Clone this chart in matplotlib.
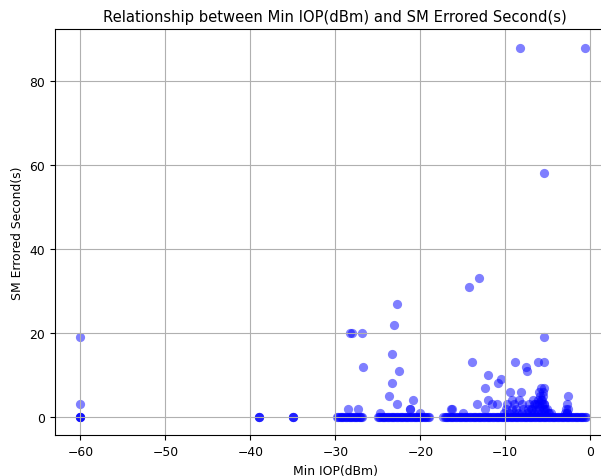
import matplotlib
matplotlib.use('Agg')
import matplotlib.pyplot as plt

# Records with SM Errored Second(s) = 0
zero_iop = [-60.0, -60.0, -60.0, -60.0, -39.0, -39.0, -39.0, -35.0, -35.0, -35.0,
            -29.8, -29.5, -29.2, -28.9, -28.6, -28.3, -28.0, -27.7, -27.4, -27.1, -26.9,
            -25.0, -24.7, -24.4, -24.1, -23.8, -23.5, -23.2, -22.9, -22.6, -22.3, -22.0,
            -21.7, -21.4, -21.1, -20.8, -20.5, -20.2, -19.9, -19.6, -19.3, -19.0,
            -17.3, -17.0, -16.7, -16.4, -16.1, -15.8, -15.5, -15.2, -14.9, -14.6, -14.3,
            -14.0, -13.7, -13.4, -13.1, -12.8, -12.5, -12.2, -11.9, -11.6, -11.3, -11.0,
            -10.7, -10.4, -10.1, -9.8, -9.5, -9.2, -8.9, -8.6, -8.3, -8.0, -7.7, -7.4,
            -7.1, -6.8, -6.5, -6.2, -5.9, -5.6, -5.3, -5.0, -4.7, -4.4, -4.1, -3.8, -3.5,
            -3.2, -2.9, -2.6, -2.3, -2.0, -1.7, -1.4, -1.1, -0.8, -0.5]
zero_iop_more = [-29.65, -29.35, -29.05, -28.75, -28.45, -28.15, -27.85, -27.55, -27.25, -27.0,
                 -24.85, -24.55, -24.25, -23.95, -23.65, -23.35, -23.05, -22.75, -22.45, -22.15,
                 -21.85, -21.55, -21.25, -20.95, -20.65, -20.35, -20.05, -19.75, -19.45, -19.15,
                 -17.15, -16.85, -16.55, -16.25, -15.95, -15.65, -15.35, -15.05, -14.75, -14.45,
                 -14.15, -13.85, -13.55, -13.25, -12.95, -12.65, -12.35, -12.05, -11.75, -11.45,
                 -11.15, -10.85, -10.55, -10.25, -9.95, -9.65, -9.35, -9.05, -8.75, -8.45,
                 -8.15, -7.85, -7.55, -7.25, -6.95, -6.65, -6.35, -6.05, -5.75, -5.45,
                 -5.15, -4.85, -4.55, -4.25, -3.95, -3.65, -3.35, -3.05, -2.75, -2.45,
                 -2.15, -1.85, -1.55, -1.25, -0.95, -0.65]

# Records with errored seconds > 0
err_iop = [-60.0, -60.0,
           -28.5, -27.3, -28.3, -28.0, -26.9, -26.8, -24.7,
           -23.7, -23.3, -23.3, -23.1, -22.7, -22.55, -22.7, -21.2, -21.2, -20.9, -20.0,
           -16.4, -16.3, -15.0,
           -14.3, -13.1, -13.9, -13.3, -12.4, -12.4, -12.0, -12.0, -11.6, -11.0,
           -10.8, -10.5, -9.8, -9.4, -9.2, -8.9, -8.3, -8.2, -8.4, -7.6, -7.4, -6.7,
           -6.1, -6.0, -5.6, -5.5, -5.5, -5.5, -5.5, -5.8, -5.9, -5.7,
           -2.7, -2.6, -2.6, -2.7, -0.67,
           -10.2, -9.6, -9.0, -8.5, -8.0, -7.5, -7.0, -6.6, -6.2, -5.8, -5.4, -5.0, -4.6,
           -3.0, -2.7,
           -9.9, -9.2, -8.7, -7.9, -7.3, -6.8, -6.4, -6.0, -5.6, -5.3, -4.8, -2.8,
           -9.0, -8.0, -7.2, -6.5, -6.0, -5.7, -5.4, -5.1,
           -7.0, -6.3, -5.8, -5.5, -5.5, -6.2, -6.6, -5.6]
err_sec = [19, 3,
           2, 2, 20, 20, 20, 12, 1,
           5, 8, 15, 22, 27, 11, 3, 2, 2, 4, 1,
           2, 2, 1,
           31, 33, 13, 3, 7, 2, 10, 4, 3, 3,
           8, 9, 3, 6, 4, 13, 88, 6, 4, 12, 11, 4,
           13, 6, 5, 13, 19, 7, 58, 7, 5, 4,
           3, 5, 2, 1, 88,
           1, 1, 1, 1, 1, 1, 1, 1, 1, 1, 1, 1, 1,
           1, 1,
           2, 2, 2, 2, 2, 2, 2, 2, 2, 2, 1, 2,
           3, 3, 3, 3, 3, 3, 3, 2,
           2, 3, 4, 3, 2, 4, 3, 6]

x_ticks = [-60, -50, -40, -30, -20, -10, 0]
y_ticks = [0, 20, 40, 60, 80]

fig = plt.figure(figsize=(6.01, 4.77), dpi=100)
ax = fig.add_axes([0.0915, 0.085, 0.933, 0.852])

all_zero = zero_iop + zero_iop_more
ax.scatter(all_zero, [0] * len(all_zero), s=44, color='blue', alpha=0.5, linewidths=0)
ax.scatter(err_iop, err_sec, s=44, color='blue', alpha=0.5, linewidths=0)

ax.set_xlim(-63, 3)
ax.set_ylim(-4.4, 92.4)
ax.set_xticks(x_ticks)
ax.set_yticks(y_ticks)
ax.tick_params(labelsize=8.9)
ax.grid(True)

ax.set_xlabel('Min IOP(dBm)', fontsize=8.9)
ax.set_ylabel('SM Errored Second(s)', fontsize=8.9)
ax.set_title('Relationship between Min IOP(dBm) and SM Errored Second(s)', fontsize=10.6)

fig.savefig('out.png', dpi=100)
